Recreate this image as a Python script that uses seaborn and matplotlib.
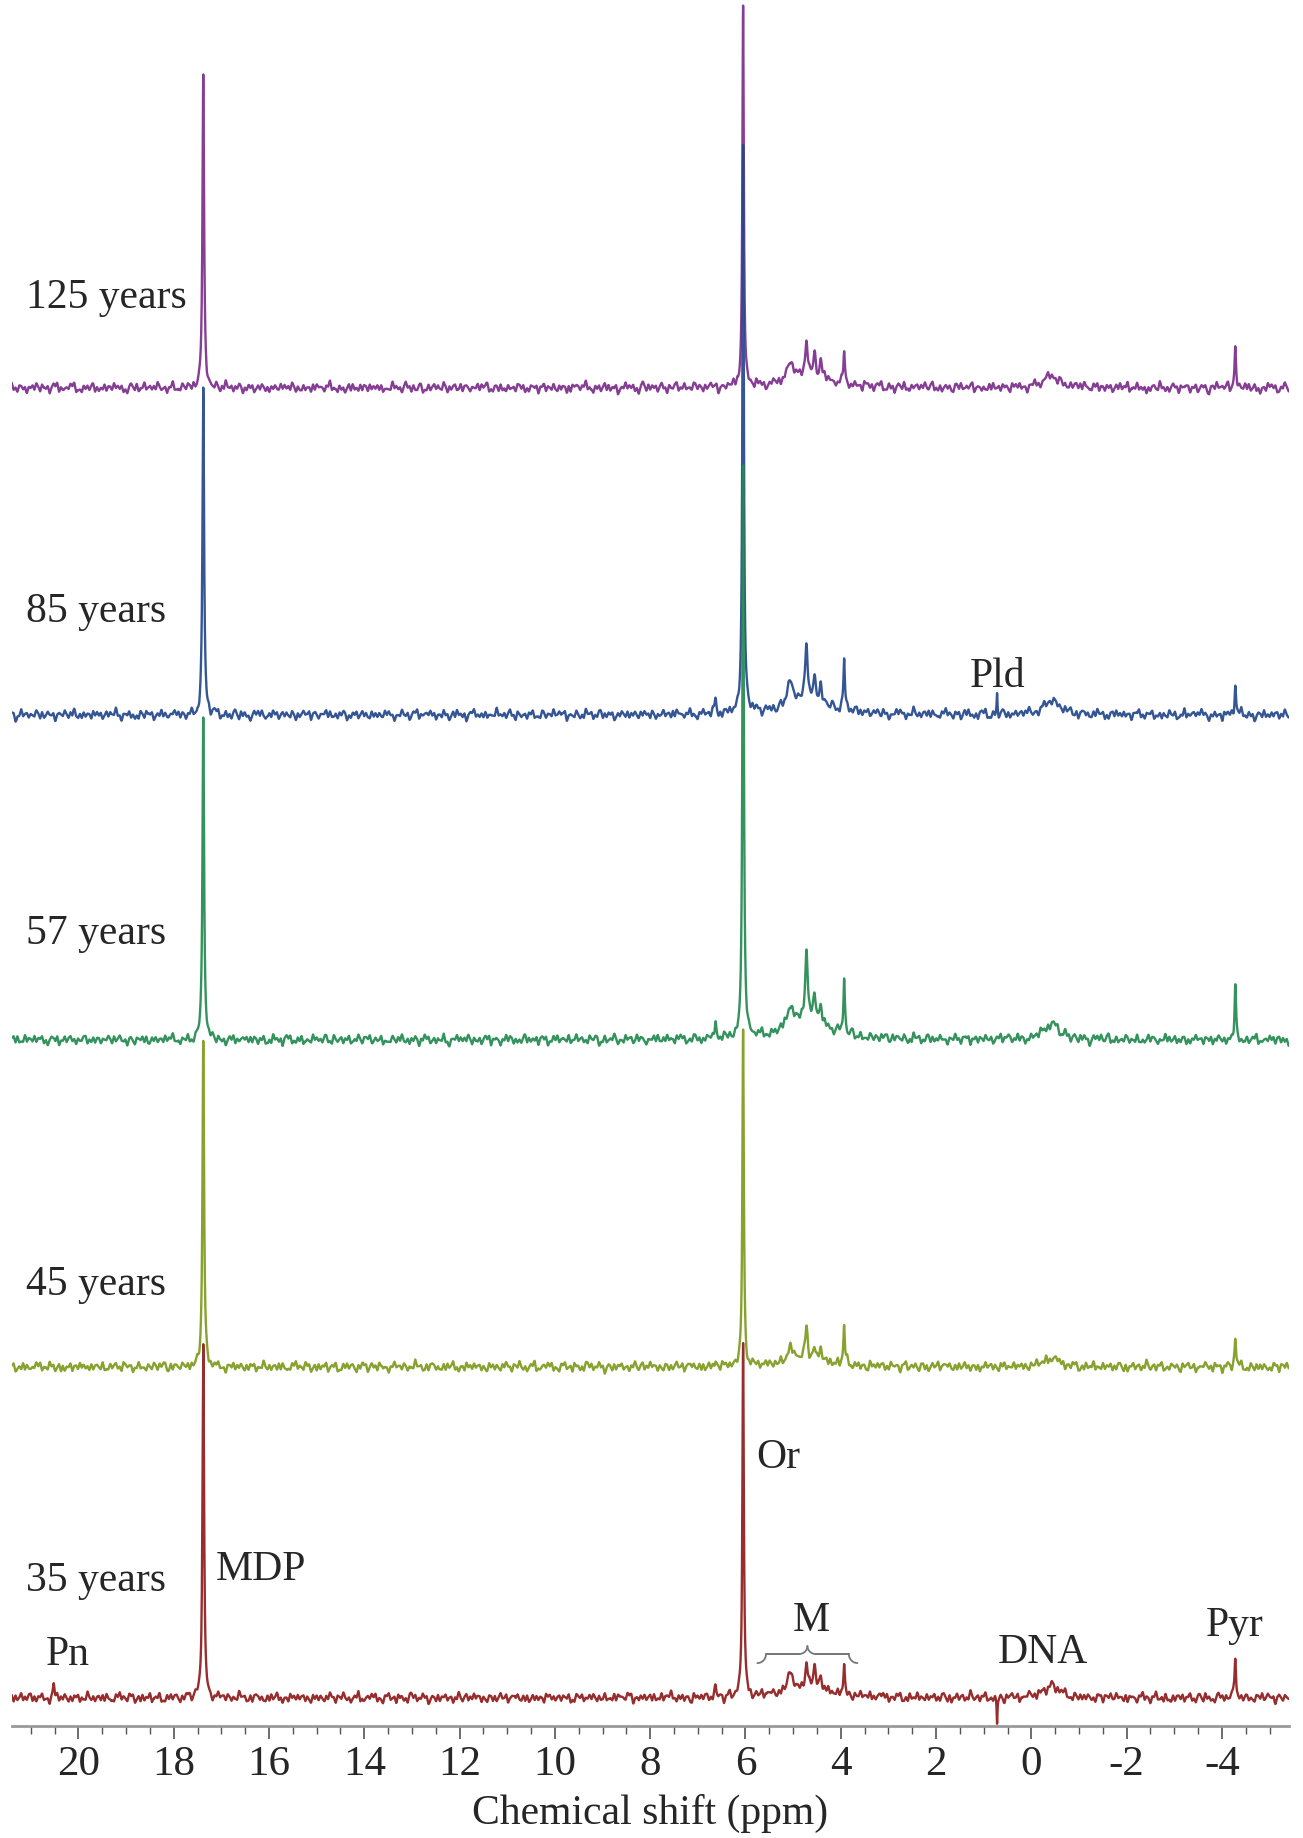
import numpy as np
import pandas as pd
import matplotlib
matplotlib.use("Agg")
import matplotlib.pyplot as plt
import seaborn as sns
from matplotlib.ticker import MultipleLocator

# stacked 31P NMR spectra, bottom (35 years) to top (125 years)
AGES = ["35 years", "45 years", "57 years", "85 years", "125 years"]
COLORS = ["#8e1b1b", "#7d9a1c", "#22894f", "#23488c", "#7b2d8b"]

# peak positions (ppm) and half widths shared by all spectra
PEAK_PPM = [20.52, 17.38, 6.63, 6.05, 5.06, 4.72, 4.55, 4.42, 3.93, 0.72, -0.42, -4.28, 4.70]
PEAK_WIDTH = [0.02, 0.02, 0.02, 0.018, 0.07, 0.03, 0.03, 0.03, 0.018, 0.01, 0.2, 0.018, 0.55]

# peak heights (same order as PEAK_PPM)
H_35 = [14, 350, 10, 358, 18, 25, 20, 14, 30, -27, 12, 42, 10]
H_45 = [0, 327, 5, 337, 14, 30, 12, 10, 37, 0, 8, 29, 8]
H_57 = [0, 325, 18, 575, 22, 68, 25, 20, 55, 0, 16, 52, 20]
H_85 = [0, 327, 14, 573, 22, 55, 18, 16, 50, 20, 14, 30, 16]
H_125 = [0, 312, 0, 378, 18, 36, 20, 18, 32, 0, 12, 42, 12]
HEIGHTS = [H_35, H_45, H_57, H_85, H_125]

# baseline wiggle
NOISE = [0.2, -0.5, 0.6, -0.1, 0.9, -0.7, 0.3, 0.1, -0.9, 0.4, -0.2, 0.7, -0.6, 0.0, 0.5, -0.8, 0.8, -0.3, 0.2, -0.4,
         0.6, -1.0, 0.3, 0.5, -0.2, 0.9, -0.6, 0.1, -0.3, 0.7, -0.5, 0.4, -0.9, 0.2, 0.6, -0.1, -0.7, 1.0, -0.4, 0.3,
         -0.2, 0.5, -0.8, 0.1, 0.7, -0.3, 0.4, -0.6, 0.9, -0.1, -0.5, 0.3, 0.6, -0.9, 0.2, -0.2, 0.8, -0.7, 0.0, 0.4,
         -0.4, 0.7, -0.1, -0.8, 0.5, 0.2, -0.6, 0.9, -0.3, 0.1, 0.6, -0.5, -0.2, 0.8, -0.9, 0.3, 0.4, -0.1, -0.6, 0.7,
         0.1, -0.4, 0.5, -0.7, 0.9, -0.2, 0.0, 0.6, -0.8, 0.3, -0.5, 0.4, 0.2, -0.9, 0.7, -0.3, 0.5, -0.1, 0.8, -0.6,
         -0.2, 0.3, -0.7, 0.6, 0.1, -0.4, 0.9, -0.5, 0.2, -0.8, 0.4, 0.0, -0.3, 0.7, -0.6, 0.5, -0.1, 0.3, -0.9, 0.6,
         0.2, -0.5, 0.8, -0.2, -0.4, 0.6, -0.7, 0.1, 0.5, -0.3, 0.9, -0.8, 0.4, -0.1, 0.2]
NOISE_SHIFT = [0, 37, 71, 18, 96]
FINE_SHIFT = [53, 11, 122, 84, 29]

# peak labels
PEAK_LABELS = ["Pn", "MDP", "Or", "M", "DNA", "Pyr", "Pld"]
PEAK_LABEL_PPM = [20.22, 16.18, 5.31, 4.61, -0.24, -4.27, 0.70]
PEAK_LABEL_Y = [71, 156, 268, 105, 73, 100, 1049]
M_RANGE = (5.75, 3.65)

XMIN, XMAX = 21.4, -5.4
OFFSETS = [28, 359, 686, 1011, 1338]
AGE_LABEL_Y = [145, 441, 792, 1114, 1428]


def lorentz(x, pos, h, w):
    return h / (1.0 + ((x - pos) / w) ** 2)


def wiggle(x, n_rep, shift):
    # lay the hand-read wiggle list along the axis n_rep times
    vals = np.roll(np.tile(NOISE, n_rep), shift)
    grid = np.linspace(XMIN, XMAX, len(vals))
    return np.interp(x, grid[::-1], vals[::-1])


def main():
    sns.set_style("white")
    plt.rcParams["font.family"] = ["Liberation Serif", "DejaVu Serif"]
    plt.rcParams["axes.unicode_minus"] = False

    fig = plt.figure(figsize=(13.03, 18.38), dpi=100)
    ax = fig.add_axes([0.009, 0.0609, 0.980, 0.9391])

    x = np.linspace(XMIN, XMAX, 8041)

    # top spectrum first so lower traces sit over the tall peaks
    for i in reversed(range(len(AGES))):
        y = OFFSETS[i] + 4.0 * wiggle(x, 2, NOISE_SHIFT[i]) + 4.5 * wiggle(x, 5, FINE_SHIFT[i])
        for p, w, h in zip(PEAK_PPM, PEAK_WIDTH, HEIGHTS[i]):
            y = y + lorentz(x, p, h, w)
        df = pd.DataFrame({"ppm": x, "signal": y})
        sns.lineplot(data=df, x="ppm", y="signal", color=COLORS[i], lw=1.7,
                     estimator=None, sort=False, ax=ax, alpha=0.92)
        ax.text(21.1, AGE_LABEL_Y[i], AGES[i], fontsize=30, ha="left", va="center")

    for lab, px, py in zip(PEAK_LABELS, PEAK_LABEL_PPM, PEAK_LABEL_Y):
        ax.text(px, py, lab, fontsize=30, ha="center", va="center")

    # curly brace over the M region
    a, b = M_RANGE
    mid = (a + b) / 2
    r = 0.18
    t = np.linspace(0, np.pi / 2, 20)
    y0, y1, y2 = 63, 72, 80
    lx = np.concatenate([a - r * np.sin(t), mid + r - r * np.sin(t)])
    ly = np.concatenate([y0 + (y1 - y0) * (1 - np.cos(t)), y1 + (y2 - y1) * (1 - np.cos(t))])
    brace = dict(color="#777777", lw=1.3)
    ax.plot(lx, ly, **brace)
    ax.plot(2 * mid - lx, ly, **brace)
    ax.plot([a - r, mid + r], [y1, y1], **brace)
    ax.plot([mid - r, b + r], [y1, y1], **brace)

    ax.set_xlim(XMIN, XMAX)
    ax.set_ylim(0, 1726)
    ax.set_yticks([])
    ax.set_ylabel("")
    ax.xaxis.set_major_locator(MultipleLocator(2))
    ax.xaxis.set_minor_locator(MultipleLocator(0.5))
    ax.tick_params(axis="x", which="major", length=9, width=1.2, color="#555555",
                   labelsize=31, pad=5, direction="out", bottom=True)
    ax.tick_params(axis="x", which="minor", length=6, width=1.0, color="#555555",
                   direction="out", bottom=True)
    ax.set_xlabel("Chemical shift (ppm)", fontsize=30, labelpad=7)
    for s in ["left", "top", "right"]:
        ax.spines[s].set_visible(False)
    ax.spines["bottom"].set_color("#999999")
    ax.spines["bottom"].set_linewidth(2)

    fig.savefig("out.png", dpi=100)
    plt.close(fig)


if __name__ == "__main__":
    main()
